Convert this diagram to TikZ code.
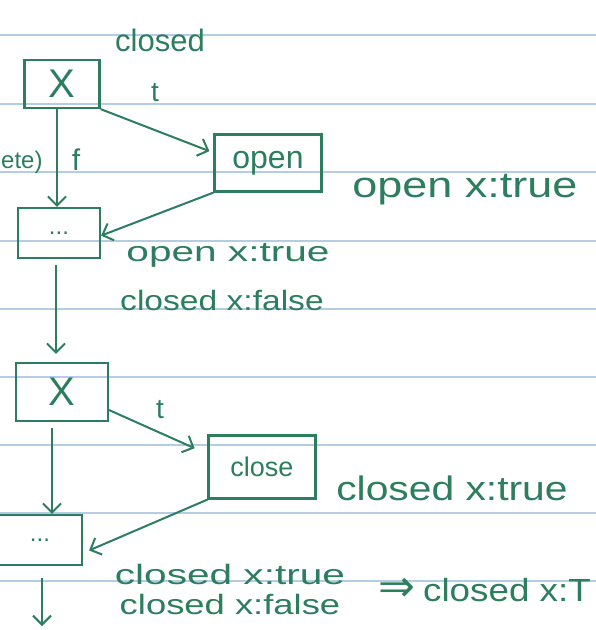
\documentclass[tikz,border=0pt]{standalone}
\usepackage{fontspec}
\setmainfont{Liberation Sans}
\newfontfamily\symfont{DejaVu Sans}
\usetikzlibrary{arrows.meta,calc}
\definecolor{ink}{RGB}{45,125,95}
\definecolor{paperrule}{RGB}{180,205,228}
\newcommand{\hwsize}[1]{\fontsize{#1}{#1}\selectfont}
\tikzset{
  rule/.style={draw=paperrule,line width=1.2pt},
  box/.style={draw=ink,line width=2.2pt,rectangle,inner sep=0pt,text=ink},
  lbl/.style={text=ink,inner sep=0pt,anchor=center},
  conn/.style={draw=ink,line width=2pt,-{Straight Barb[length=9pt,width=18pt,line width=2pt]}},
}
\begin{document}
\begin{tikzpicture}[x=1pt,y=-1pt]
\fill[white] (0,0) rectangle (596,630);
\useasboundingbox (0,0) rectangle (596,630);
\foreach \yy in {35,104,172,241,309,377,445,513,581}
  \draw[rule] (0,\yy) -- (596,\yy);
% boxes
\node[box,minimum width=75pt,minimum height=48pt,font=\hwsize{40}] (x1) at (62,84) {X};
\node[box,minimum width=107pt,minimum height=57pt,font=\hwsize{32}] (open) at (268,163) {open};
\node[box,minimum width=82pt,minimum height=50pt,font=\hwsize{24}] (dots1) at (59,233) {...};
\node[box,minimum width=92pt,minimum height=58pt,font=\hwsize{40}] (x2) at (62,392) {X};
\node[box,minimum width=107pt,minimum height=63pt,font=\hwsize{27}] (close) at (262,467) {close};
\node[box,minimum width=84pt,minimum height=50pt,font=\hwsize{24}] (dots2) at (40,540) {...};
\coordinate (end) at (42,626);
% connectors
\draw[conn] (x1.south east) -- ($(open.north west)!0.3!(open.south west)+(-4,0)$);
\draw[conn] (x1.south -| 57,0) -- (dots1.north -| 57,0);
\draw[conn] (open.south west) -- ($(dots1.north east)!0.55!(dots1.south east)$);
\draw[conn,shorten <=6pt,shorten >=8pt] (dots1.south -| 56,0) -- (x2.north -| 56,0);
\draw[conn,shorten >=14pt] ($(x2.north east)!0.8!(x2.south east)$) -- ($(close.north west)!0.3!(close.south west)$);
\draw[conn,shorten <=6pt] (x2.south -| 52,0) -- (dots2.north -| 52,0);
\draw[conn] (close.south west) -- ($(dots2.north east)!0.7!(dots2.south east)+(6,0)$);
\draw[conn,shorten <=12pt] (dots2.south -| end) -- (end);
% labels
\node[lbl,font=\hwsize{31}] (lclosed) at (160,40) {closed};
\node[lbl,font=\hwsize{28}] (lt1) at (155,93) {t};
\node[lbl,font=\hwsize{24},anchor=west] (lete) at (1,162) {ete)};
\node[lbl,font=\hwsize{30}] (lf) at (76,160) {f};
\node[lbl,font=\hwsize{36},xscale=1.25] (lopenR) at (465,190) {open x:true};
\node[lbl,font=\hwsize{28},xscale=1.45] (lopen2) at (228,255) {open x:true};
\node[lbl,font=\hwsize{28},xscale=1.2] (lclosedF) at (222,300) {closed x:false};
\node[lbl,font=\hwsize{28}] (lt2) at (160,410) {t};
\node[lbl,font=\hwsize{34},xscale=1.2] (lclosedR) at (452,488) {closed x:true};
\node[lbl,font=\hwsize{28},xscale=1.45] (lclosedT2) at (230,574) {closed x:true};
\node[lbl,font=\hwsize{28},xscale=1.3] (lclosedF2) at (230,604) {closed x:false};
\node[lbl,font=\symfont\hwsize{44}] (limp) at (397,590) {⇒};
\node[lbl,font=\hwsize{32},xscale=1.15] (lres) at (507,590) {closed x:T};
\end{tikzpicture}
\end{document}
